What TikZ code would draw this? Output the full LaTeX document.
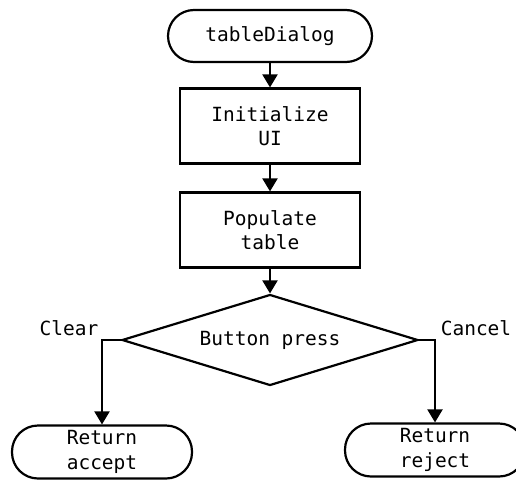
\documentclass[tikz,border=0pt]{standalone}
\usepackage{fontspec}
\setmonofont{DejaVu Sans Mono}
\usetikzlibrary{shapes.geometric,arrows.meta}
\begin{document}
\begin{tikzpicture}[x=1pt,y=-1pt,
  every node/.style={font=\ttfamily\fontsize{19.5}{24.5}\selectfont, align=center},
  line/.style={line width=2.2pt, draw=black},
  flow/.style={line, -{Triangle[width=15pt,length=13pt]}},
  terminal/.style={line, rectangle, rounded corners=26pt, minimum width=204pt, minimum height=52pt, inner sep=0pt},
  terminalb/.style={line, rectangle, rounded corners=26pt, minimum width=180pt, minimum height=53pt, inner sep=0pt},
  process/.style={line, rectangle, minimum width=180pt, minimum height=75pt, inner sep=0pt},
  decision/.style={line, diamond, minimum width=296pt, minimum height=91pt, inner sep=0pt, aspect=3.25}
]
\useasboundingbox (0,0) rectangle (516,479);
\begin{scope}
\clip (0,0) rectangle (516,479);
\node[terminal] (start) at (270,36) {tableDialog};
\node[process] (init) at (270,126) {Initialize\\UI};
\node[process] (pop) at (270,230) {Populate\\table};
\node[decision] (btn) at (270,340) {Button press};
\node[terminalb] (acc) at (102,452) {Return\\accept};
\node[terminalb] (rej) at (435,450) {Return\\reject};

\node (clear) at (69,328) {Clear};
\node (cancel) at (476,328) {Cancel};

\draw[flow] (start) -- (init);
\draw[flow] (init) -- (pop);
\draw[flow] (pop) -- (btn);
\draw[flow] (btn.west) -| (acc.north);
\draw[flow] (btn.east) -| (rej.north);
\end{scope}
\end{tikzpicture}
\end{document}
